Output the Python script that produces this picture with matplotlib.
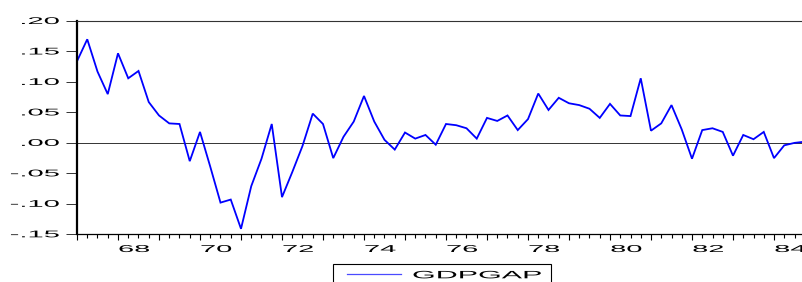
import numpy as np
import matplotlib
matplotlib.use('Agg')
import matplotlib.pyplot as plt
import matplotlib.transforms as mtransforms
from matplotlib.patheffects import AbstractPathEffect
from matplotlib.patches import Rectangle
from matplotlib.lines import Line2D

# quarterly output gap, 1967Q1 onwards
start_year = 1967
gdpgap = [0.134, 0.170, 0.117, 0.080, 0.147, 0.106, 0.118, 0.067,
          0.045, 0.032, 0.031, -0.030, 0.018, -0.039, -0.098, -0.093,
          -0.141, -0.071, -0.026, 0.031, -0.089, -0.048, -0.005, 0.048,
          0.031, -0.025, 0.010, 0.035, 0.077, 0.035, 0.005, -0.011,
          0.017, 0.007, 0.013, -0.003, 0.031, 0.029, 0.024, 0.007,
          0.041, 0.036, 0.045, 0.021, 0.039, 0.081, 0.054, 0.074,
          0.065, 0.062, 0.056, 0.041, 0.064, 0.045, 0.044, 0.106,
          0.020, 0.032, 0.062, 0.022, -0.026, 0.021, 0.024, 0.018,
          -0.021, 0.013, 0.006, 0.018, -0.025, -0.004, 0.000, 0.002]

ytick_vals = [0.20, 0.15, 0.10, 0.05, 0.00, -0.05, -0.10, -0.15]
ytick_text = ['.20', '.15', '.10', '.05', '.00', '-.05', '-.10', '-.15']
xlabel_years = [68, 70, 72, 74, 76, 78, 80, 82, 84]
series_name = 'GDPGAP'


class Stretch(AbstractPathEffect):
    """draw text glyphs stretched horizontally (the eviews export looks wide)"""
    def __init__(self, sx, anchor='left'):
        super().__init__()
        self.sx = sx
        self.anchor = anchor

    def draw_path(self, renderer, gc, tpath, affine, rgbFace=None):
        ext = tpath.get_extents()
        x0 = {'left': ext.x0, 'right': ext.x1}[self.anchor]
        tr = Affine(x0, self.sx) + affine
        renderer.draw_path(gc, tpath, tr, rgbFace)


def Affine(x0, sx):
    return mtransforms.Affine2D().translate(-x0, 0).scale(sx, 1).translate(x0, 0)


W, H = 803, 282
fig = plt.figure(figsize=(W / 100, H / 100), dpi=100)
plt.rcParams['font.family'] = ['Liberation Sans', 'DejaVu Sans']

left, right, top, bottom = 77, 807, 21, 234.3
ax = fig.add_axes([left / W, 1 - bottom / H, (right - left) / W, (bottom - top) / H])

x = start_year + np.arange(len(gdpgap)) / 4
ax.plot(x, gdpgap, color='#0000ff', lw=1.3, solid_joinstyle='miter')
ax.axhline(0, color='#333333', lw=0.7, zorder=1)

ax.set_xlim(start_year, start_year + (right - left) / 41.0)
ax.set_ylim(-0.15, 0.20)

# spines
ax.spines['right'].set_visible(False)
ax.spines['left'].set_linewidth(1.6)
ax.spines['left'].set_color('black')
ax.spines['top'].set_linewidth(0.8)
ax.spines['top'].set_color('#333333')
ax.spines['bottom'].set_linewidth(0.9)
ax.spines['bottom'].set_color('black')

# ticks (labels drawn by hand below)
ax.set_yticks(ytick_vals)
ax.set_yticklabels([])
ax.tick_params(axis='y', direction='out', length=8, width=0.7, color='#333333')
ax.set_xticks(np.arange(1967, 1985))
ax.set_xticks(np.arange(1967, 1985, 0.25), minor=True)
ax.set_xticklabels([])
ax.tick_params(axis='x', which='major', direction='out', length=4.5, width=0.8, color='black')
ax.tick_params(axis='x', which='minor', direction='out', length=3, width=0.8, color='black')

tick_fx = [Stretch(3.0, 'right')]
ytrans = mtransforms.offset_copy(ax.get_yaxis_transform(), fig, x=-18, y=0, units='dots')
for v, s in zip(ytick_vals, ytick_text):
    ax.text(0, v, s, transform=ytrans, ha='right', va='center', fontsize=7,
            color='black', path_effects=tick_fx)

xtrans = mtransforms.offset_copy(ax.get_xaxis_transform(), fig, x=1, y=-17.7, units='dots')
for yr in xlabel_years:
    ax.text(1900 + yr, 0, str(yr), transform=xtrans, ha='left', va='baseline',
            fontsize=7.2, color='black', path_effects=[Stretch(2.9, 'left')])

# legend box (cut off at the bottom of the image like the original)
fig.add_artist(Rectangle((333 / W, 1 - 290 / H), (551 - 333) / W, (290 - 264) / H,
                         transform=fig.transFigure, fill=False, ec='black', lw=0.8))
fig.add_artist(Line2D([347 / W, 401 / W], [1 - 274.3 / H] * 2,
                      transform=fig.transFigure, color='#4a4aff', lw=0.9))
fig.text(413 / W, 1 - 278.3 / H, series_name, ha='left', va='baseline', fontsize=7.7,
         color='black', path_effects=[Stretch(2.85, 'left')])

fig.savefig('out.png', dpi=100)
